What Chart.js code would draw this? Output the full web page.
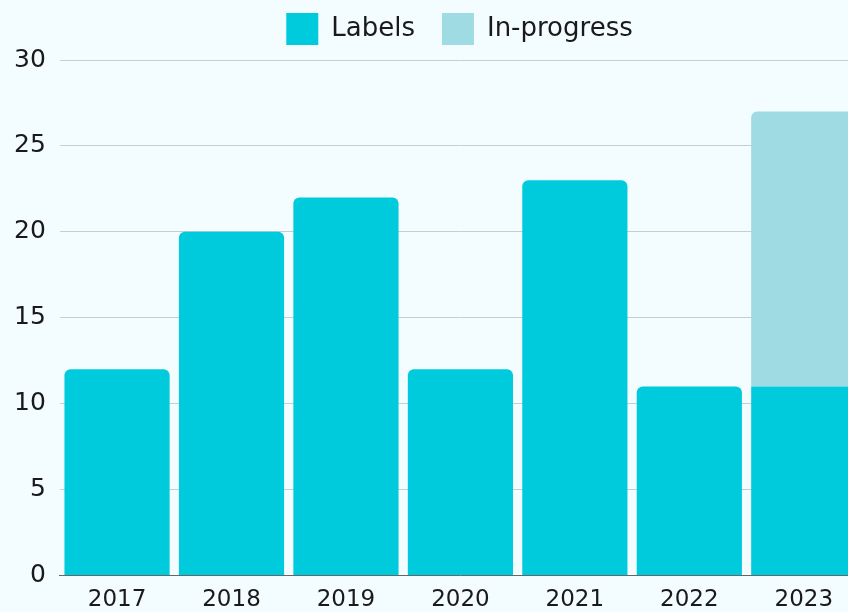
<!DOCTYPE html>
<html lang="en">
<head>
    <meta charset="UTF-8">
    <title>Labels per year</title>
    <script src="https://cdn.jsdelivr.net/npm/chart.js"></script>
    <style>
        html, body { margin: 0; padding: 0; background: #f3fcfe; overflow: hidden; }
        #wrap { position: absolute; left: 0; top: -14px; }
    </style>
</head>
<body>
    <div id="wrap">
        <canvas id="grafico" width="912" height="631"></canvas>
    </div>

    <script>
        // datos
        const years = ['2017', '2018', '2019', '2020', '2021', '2022', '2023'];
        const labelsDone = [12, 20, 22, 12, 23, 11, 11];
        const inProgress = [0, 0, 0, 0, 0, 0, 16];
        const yTicks = [0, 5, 10, 15, 20, 25, 30];

        const fontFamily = '"DejaVu Sans", sans-serif';
        const textColor = '#1a1a1a';

        // la leyenda va algo desplazada a la derecha en el original
        // y deja un poco mas de aire por debajo
        const ajustarLeyenda = {
            id: 'ajustarLeyenda',
            afterInit(chart) {
                const fitOriginal = chart.legend.fit;
                chart.legend.fit = function () {
                    fitOriginal.call(this);
                    this.height += 5;
                };
            },
            afterLayout(chart) {
                chart.legend.left += 29;
                chart.legend.right += 29;
            }
        };

        const ctx = document.getElementById('grafico').getContext('2d');
        new Chart(ctx, {
            type: 'bar',
            data: {
                labels: years,
                datasets: [{
                    label: 'Labels',
                    data: labelsDone,
                    backgroundColor: '#00cbdc',
                    borderRadius: 6,
                    borderSkipped: 'start'
                }, {
                    label: 'In-progress',
                    data: inProgress,
                    backgroundColor: '#9fdbe2',
                    borderRadius: 6,
                    borderSkipped: 'start'
                }]
            },
            plugins: [ajustarLeyenda],
            options: {
                responsive: false,
                animation: false,
                barPercentage: 1,
                categoryPercentage: 0.919,
                layout: { padding: { left: 0, right: 51, top: 0, bottom: 0 } },
                plugins: {
                    legend: {
                        position: 'top',
                        labels: {
                            boxWidth: 32,
                            boxHeight: 32,
                            padding: 27,
                            color: textColor,
                            font: { family: fontFamily, size: 26 }
                        }
                    },
                    tooltip: { enabled: false }
                },
                scales: {
                    x: {
                        stacked: true,
                        grid: { display: false },
                        border: { display: true, color: '#666666', width: 1 },
                        ticks: {
                            color: textColor,
                            padding: 3,
                            font: { family: fontFamily, size: 23 }
                        }
                    },
                    y: {
                        stacked: true,
                        min: 0,
                        max: yTicks[yTicks.length - 1],
                        afterBuildTicks: (axis) => { axis.ticks = yTicks.map(v => ({ value: v })); },
                        grid: { color: '#c9cdd2', drawTicks: false },
                        border: { display: false },
                        ticks: {
                            color: textColor,
                            padding: 14,
                            font: { family: fontFamily, size: 25 }
                        }
                    }
                }
            }
        });
    </script>
</body>
</html>
